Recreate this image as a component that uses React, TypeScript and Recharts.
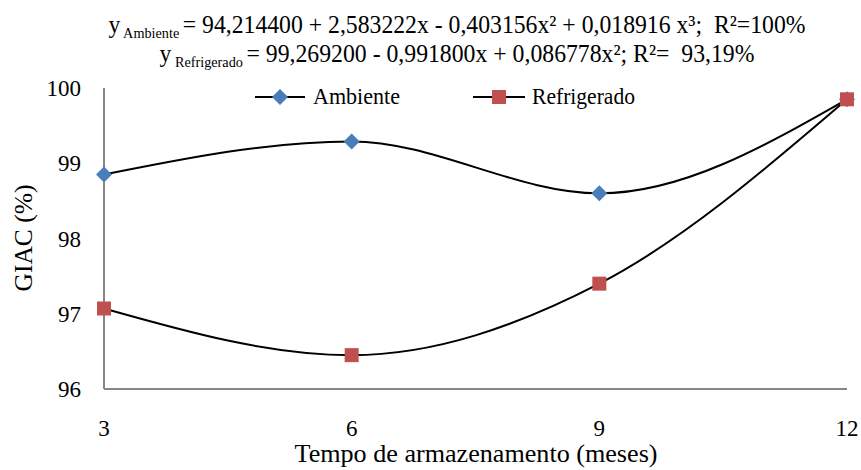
import { LineChart, Line, XAxis, YAxis, Legend } from "recharts";

const months = [3, 6, 9, 12];
const ambiente = [98.85, 99.29, 98.6, 99.85];
const refrigerado = [97.07, 96.45, 97.4, 99.85];
const xTicks = [3, 6, 9, 12];
const yTicks = [96, 97, 98, 99, 100];

const BLUE = "#4A7EBB";
const RED = "#C0504D";
const AXIS = "#868686";
const FONT = "Liberation Serif";

const data = months.map((m, i) => ({
  mes: m,
  ambiente: ambiente[i],
  refrigerado: refrigerado[i],
}));

function Diamond(props: any) {
  const { cx, cy } = props;
  if (cx == null || cy == null) return null;
  return (
    <polygon
      points={`${cx},${cy - 8} ${cx + 8},${cy} ${cx},${cy + 8} ${cx - 8},${cy}`}
      fill={BLUE}
    />
  );
}

function Square(props: any) {
  const { cx, cy } = props;
  if (cx == null || cy == null) return null;
  return <rect x={cx - 7} y={cy - 7} width={14} height={14} fill={RED} />;
}

function LegendBox() {
  return (
    <svg width={420} height={34} style={{ display: "block", overflow: "visible" }}>
      <line x1={5} x2={55} y1={17} y2={17} stroke="#000" strokeWidth={2} />
      <polygon points="30,9 38,17 30,25 22,17" fill={BLUE} />
      <text x={63} y={24} fontSize={24} fill="#000" textLength={87} lengthAdjust="spacingAndGlyphs">
        Ambiente
      </text>
      <line x1={223} x2={275} y1={17} y2={17} stroke="#000" strokeWidth={2} />
      <rect x={242} y={10} width={14} height={14} fill={RED} />
      <text x={282} y={24} fontSize={24} fill="#000" textLength={103} lengthAdjust="spacingAndGlyphs">
        Refrigerado
      </text>
    </svg>
  );
}

export default function App() {
  return (
    <div style={{ position: "relative", width: 861, height: 470, background: "#fff", fontFamily: FONT }}>
      <style>{`body{margin:0} svg text{font-family:"Liberation Serif"}`}</style>
      <svg width={861} height={75} style={{ position: "absolute", left: 0, top: 0, zIndex: 2 }}>
        <text
          x={457}
          y={33}
          textAnchor="middle"
          fontSize={25}
          textLength={697}
          lengthAdjust="spacingAndGlyphs"
          style={{ whiteSpace: "pre" }}
        >
          y<tspan fontSize={15} dy={5}> Ambiente </tspan>
          <tspan dy={-5}>= 94,214400 + 2,583222x - 0,403156x² + 0,018916 x³;  R²=100%</tspan>
        </text>
        <text
          x={457}
          y={62}
          textAnchor="middle"
          fontSize={25}
          textLength={595}
          lengthAdjust="spacingAndGlyphs"
          style={{ whiteSpace: "pre" }}
        >
          y<tspan fontSize={15} dy={5}> Refrigerado </tspan>
          <tspan dy={-5}>= 99,269200 - 0,991800x + 0,086778x²; R²=  93,19%</tspan>
        </text>
      </svg>
      <LineChart
        width={861}
        height={470}
        data={data}
        margin={{ top: 88, right: 14, bottom: 0, left: 0 }}
      >
        <XAxis
          dataKey="mes"
          type="number"
          domain={[3, 12]}
          ticks={xTicks}
          height={81}
          tickLine={false}
          tickSize={0}
          tickMargin={31}
          axisLine={{ stroke: AXIS, strokeWidth: 2 }}
          tick={{ fill: "#000", fontSize: 23 }}
          label={{
            content: () => (
              <text
                x={476}
                y={462}
                textAnchor="middle"
                fontSize={25}
                fill="#000"
                textLength={363}
                lengthAdjust="spacingAndGlyphs"
              >
                Tempo de armazenamento (meses)
              </text>
            ),
          }}
        />
        <YAxis
          type="number"
          domain={[96, 100]}
          ticks={yTicks}
          width={104}
          tickLine={false}
          tickSize={0}
          tickMargin={23}
          axisLine={{ stroke: AXIS, strokeWidth: 2 }}
          tick={{ fill: "#000", fontSize: 23 }}
          label={{
            content: () => (
              <text
                x={32}
                y={238}
                transform="rotate(-90 32 238)"
                textAnchor="middle"
                fontSize={25}
                fill="#000"
                textLength={107}
                lengthAdjust="spacingAndGlyphs"
              >
                GIAC (%)
              </text>
            ),
          }}
        />
        <Legend
          verticalAlign="middle"
          layout="horizontal"
          wrapperStyle={{ top: 80, left: 250, width: 420 }}
          content={() => <LegendBox />}
        />
        <Line
          dataKey="ambiente"
          type="monotone"
          stroke="#000"
          strokeWidth={2}
          dot={<Diamond />}
          activeDot={false}
          isAnimationActive={false}
        />
        <Line
          dataKey="refrigerado"
          type="monotone"
          stroke="#000"
          strokeWidth={2}
          dot={<Square />}
          activeDot={false}
          isAnimationActive={false}
        />
      </LineChart>
    </div>
  );
}
